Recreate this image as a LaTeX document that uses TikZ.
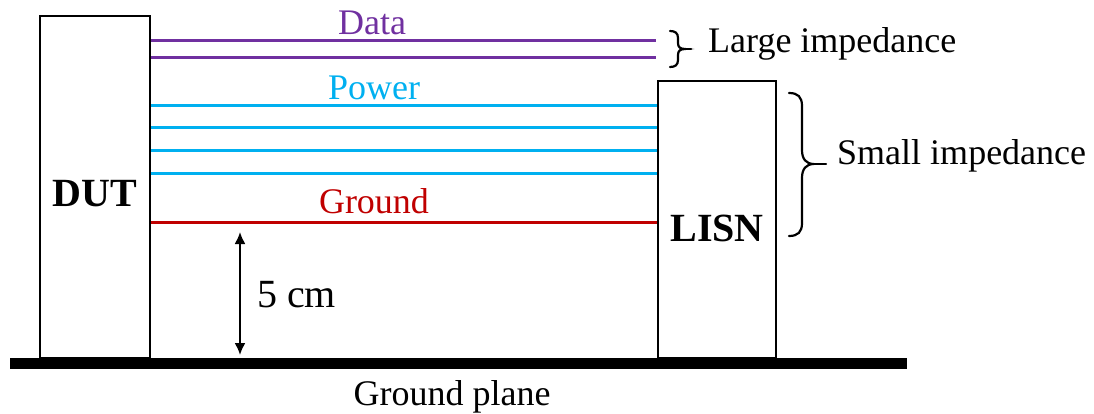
\documentclass[tikz,border=0pt]{standalone}
\usepackage{fontspec}
\setmainfont{Liberation Serif}
\usetikzlibrary{arrows.meta}
\definecolor{datacol}{HTML}{7030A0}
\definecolor{powercol}{HTML}{00B0F0}
\definecolor{groundcol}{HTML}{C00000}
\tikzset{
  unitbox/.style={draw=black, line width=2pt, inner sep=0pt},
  wire/.style={line width=3pt},
  lbl/.style={inner sep=0pt, anchor=base, font=\fontsize{36}{40}\selectfont},
  boldlbl/.style={inner sep=0pt, anchor=base, font=\fontsize{40}{44}\selectfont\bfseries},
  curly/.style={line width=2.2pt, line cap=round},
  dim/.style={line width=2pt, {Latex[length=12pt,width=11pt]}-{Latex[length=12pt,width=11pt]}}
}
\begin{document}
\begin{tikzpicture}[x=1pt, y=-1pt]
\useasboundingbox (0,0) rectangle (1094,414);

% ground plane bar
\node[fill=black, inner sep=0pt, minimum width=897pt, minimum height=11pt] (plane) at (458.5,363.5) {};
\node[lbl, anchor=base] (planelbl) at (452,405) {Ground plane};

% equipment boxes
\node[unitbox, minimum width=110pt, minimum height=342pt] (dut) at (95,187) {};
\node[unitbox, minimum width=118pt, minimum height=277pt] (lisn) at (717,219.5) {};
\node[boldlbl] (dutlbl) at (95,207) {DUT};
\node[boldlbl] (lisnlbl) at (717,241) {LISN};

% data lines (open ended)
\coordinate (d1) at (656,41);
\coordinate (d2) at (656,58);
\draw[wire, datacol] (dut.east |- d1) -- (d1);
\draw[wire, datacol] (dut.east |- d2) -- (d2);
\node[lbl, text=datacol] (datalbl) at (372,35) {Data};

% power lines
\foreach \y [count=\i] in {106,128,151,174} {
  \coordinate (p\i) at (400,\y);
  \draw[wire, powercol] (dut.east |- p\i) -- (lisn.west |- p\i);
}
\node[lbl, text=powercol] (powerlbl) at (374,100) {Power};

% ground line
\coordinate (g1) at (400,222);
\draw[wire, groundcol] (dut.east |- g1) -- (lisn.west |- g1);
\node[lbl, text=groundcol] (groundlbl) at (374,213) {Ground};

% height dimension
\coordinate (htop) at (240,232);
\coordinate (hbot) at (240,355);
\draw[dim] (htop) -- (hbot);
\node[lbl, anchor=base west, font=\fontsize{40}{44}\selectfont] (hlbl) at (257,307) {5 cm};

% brace for the data lines
\draw[curly] (670,31) .. controls (675,31) and (678,33) .. (678,38)
  -- (678,43) .. controls (678,47) and (680,49) .. (685,49)
  .. controls (680,49) and (678,51) .. (678,55)
  -- (678,60) .. controls (678,65) and (675,67) .. (670,67);
\draw[curly] (685,49) -- (691,49);
\node[lbl, anchor=base west] (largelbl) at (708,53) {Large impedance};

% brace for the power and ground lines
\draw[curly] (789,93) .. controls (798,93) and (802,97) .. (802,106)
  -- (802,150) .. controls (802,159) and (806,164) .. (814,164)
  .. controls (806,164) and (802,169) .. (802,178)
  -- (802,223) .. controls (802,232) and (798,236) .. (789,236);
\draw[curly] (814,164) -- (826,164);
\node[lbl, anchor=base west] (smalllbl) at (837,165) {Small impedance};
\end{tikzpicture}
\end{document}
